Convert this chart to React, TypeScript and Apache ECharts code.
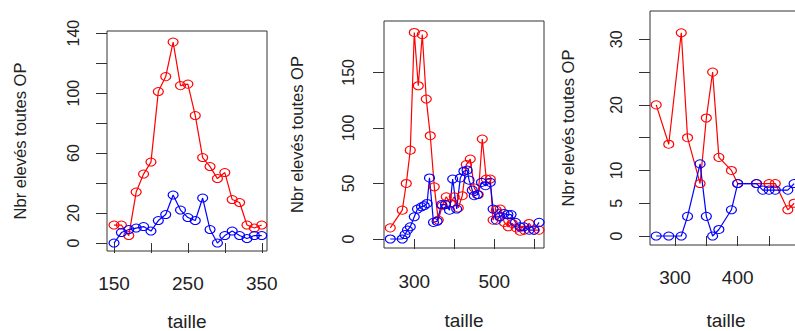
import React, { useEffect, useRef } from "react";
import * as echarts from "echarts";

// ---- Panel 1 data ----
const p1X = [150, 160, 170, 180, 190, 200, 210, 220, 230, 240, 250, 260, 270, 280, 290, 300, 310, 320, 330, 340, 350];
const p1Red = [12, 12, 5, 34, 46, 54, 101, 111, 134, 105, 106, 85, 57, 51, 43, 47, 29, 27, 12, 10, 12];
const p1Blue = [0, 7, 9, 10, 11, 8, 15, 19, 32, 22, 17, 15, 30, 9, 0, 5, 8, 5, 3, 5, 5];

// ---- Panel 2 data ----
const p2RedX = [240, 270, 280, 290, 300, 310, 320, 330, 340, 350, 360, 370, 380, 390, 400, 410, 420, 430, 440, 450, 460, 470, 480, 490, 497, 505, 515, 525, 535, 545, 555, 565, 575, 587, 600, 612];
const p2Red = [10, 26, 50, 80, 186, 138, 184, 126, 93, 47, 17, 30, 38, 32, 38, 28, 39, 67, 72, 46, 40, 90, 54, 54, 17, 26, 27, 15, 11, 14, 10, 7, 8, 14, 8, 8];
const p2BlueX = [240, 270, 277, 283, 290, 300, 308, 318, 325, 332, 338, 348, 357, 368, 378, 388, 396, 406, 415, 424, 432, 437, 445, 450, 458, 468, 478, 490, 497, 505, 514, 524, 534, 542, 553, 564, 574, 587, 599, 612];
const p2Blue = [0, 0, 4, 8, 11, 20, 27, 29, 30, 32, 55, 15, 16, 31, 31, 26, 54, 27, 55, 61, 62, 53, 44, 39, 40, 51, 48, 51, 27, 17, 20, 23, 22, 22, 15, 11, 11, 8, 8, 15];

// ---- Panel 3 data ----
const p3RedX = [270, 290, 310, 320, 340, 350, 360, 370, 390, 400, 430, 450, 460, 480, 490];
const p3Red = [20, 14, 31, 15, 8, 18, 25, 12, 10, 8, 8, 8, 8, 4, 5];
const p3BlueX = [270, 290, 310, 320, 340, 350, 360, 370, 390, 400, 430, 440, 450, 460, 480, 490];
const p3Blue = [0, 0, 0, 3, 11, 3, 0, 1, 4, 8, 8, 7, 7, 7, 7, 8];

// ---- Ticks ----
const p1XTicks = [150, 200, 250, 300, 350];
const p1XLabels = [150, 250, 350];
const p1YTicks = [0, 20, 40, 60, 80, 100, 120, 140];
const p1YLabels = [0, 20, 60, 100, 140];
const p2XTicks = [300, 400, 500, 600];
const p2XLabels = [300, 500];
const p2YTicks = [0, 50, 100, 150];
const p2YLabels = [0, 50, 100, 150];
const p3XTicks = [300, 350, 400, 450, 500];
const p3XLabels = [300, 400];
const p3YTicks = [0, 5, 10, 15, 20, 25, 30];
const p3YLabels = [0, 5, 10, 20, 30];

const xTitle = "taille";
const yTitle = "Nbr elevés toutes OP";

const FONT = "Liberation Sans, Arial, sans-serif";
const TEXT = "#222";

function pairs(xs: number[], ys: number[]) {
  return xs.map((x, i) => [x, ys[i]]);
}

function xAxis(gridIndex: number, min: number, max: number, ticks: number[], labels: number[], margin: number, nameGap: number) {
  return {
    type: "value",
    gridIndex,
    min,
    max,
    axisLine: { show: false },
    splitLine: { show: false },
    axisTick: { show: true, inside: false, length: 10, lineStyle: { color: "#333", width: 1 }, customValues: ticks },
    axisLabel: { customValues: labels, margin, fontSize: 19, color: TEXT, fontFamily: FONT },
    name: xTitle,
    nameLocation: "middle",
    nameGap,
    nameTextStyle: { fontSize: 19, color: TEXT, fontFamily: FONT },
  };
}

function yAxis(gridIndex: number, min: number, max: number, ticks: number[], labels: number[], margin: number, nameGap: number) {
  return {
    type: "value",
    gridIndex,
    min,
    max,
    axisLine: { show: false },
    splitLine: { show: false },
    axisTick: { show: true, inside: false, length: 11, lineStyle: { color: "#333", width: 1 }, customValues: ticks },
    axisLabel: { customValues: labels, rotate: 90, margin, fontSize: 16, color: TEXT, fontFamily: FONT },
    name: yTitle,
    nameLocation: "middle",
    nameRotate: 90,
    nameGap,
    nameTextStyle: { fontSize: 16.5, color: TEXT, fontFamily: FONT },
  };
}

function line(idx: number, data: number[][], color: string) {
  return {
    type: "line",
    xAxisIndex: idx,
    yAxisIndex: idx,
    data,
    symbol: "circle",
    symbolSize: [10, 8],
    showAllSymbol: true,
    clip: false,
    itemStyle: { color: "rgba(0,0,0,0)", borderColor: color, borderWidth: 1.1 },
    lineStyle: { color, width: 1.2 },
    emphasis: { disabled: true },
  };
}

export default function App() {
  const ref = useRef<HTMLDivElement>(null);
  useEffect(() => {
    if (!ref.current) return;
    const chart = echarts.init(ref.current, undefined, { renderer: "svg" });
    const gridBase = {
      show: true,
      borderColor: "#333",
      borderWidth: 1,
      backgroundColor: "transparent",
      containLabel: false,
      outerBoundsMode: "none",
    };
    chart.setOption({
      animation: false,
      backgroundColor: "#fff",
      grid: [
        { ...gridBase, left: 107, top: 31, width: 160, height: 220 },
        { ...gridBase, left: 384, top: 21, width: 160, height: 227 },
        { ...gridBase, left: 650, top: 11, width: 152, height: 234 },
      ],
      xAxis: [
        xAxis(0, 140.5, 357.1, p1XTicks, p1XLabels, 23, 61),
        xAxis(1, 224.3, 624.3, p2XTicks, p2XLabels, 24, 63),
        xAxis(2, 260.1, 502.6, p3XTicks, p3XLabels, 23, 66),
      ],
      yAxis: [
        yAxis(0, -5.3, 141.4, p1YTicks, p1YLabels, 26, 79),
        yAxis(1, -8.1, 196.3, p2YTicks, p2YLabels, 28, 79),
        yAxis(2, -1.37, 34.32, p3YTicks, p3YLabels, 26, 74),
      ],
      series: [
        line(0, pairs(p1X, p1Red), "#ff0000"),
        line(0, pairs(p1X, p1Blue), "#0000ff"),
        line(1, pairs(p2RedX, p2Red), "#ff0000"),
        line(1, pairs(p2BlueX, p2Blue), "#0000ff"),
        line(2, pairs(p3RedX, p3Red), "#ff0000"),
        line(2, pairs(p3BlueX, p3Blue), "#0000ff"),
      ],
    });
    return () => chart.dispose();
  }, []);
  return (
    <div style={{ position: "fixed", left: 0, top: 0, width: 795, height: 331, overflow: "hidden", background: "#fff" }}>
      <div ref={ref} style={{ position: "absolute", left: 0, top: 0, width: 900, height: 331 }} />
    </div>
  );
}
